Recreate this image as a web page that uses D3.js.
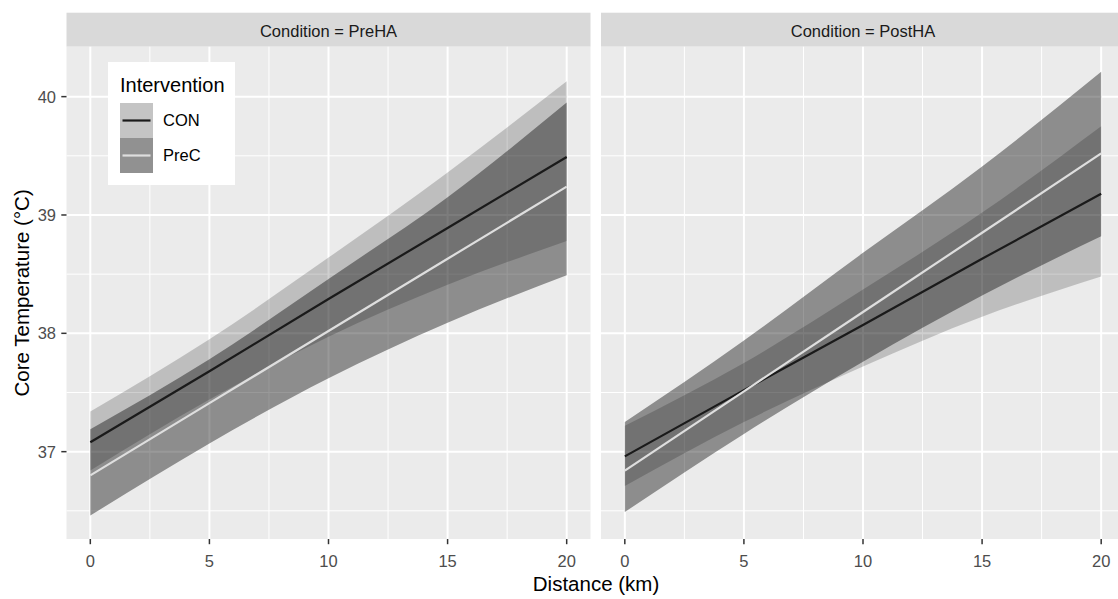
<!DOCTYPE html>
<html>
<head>
<meta charset="utf-8">
<script src="https://cdn.jsdelivr.net/npm/d3@7"></script>
<style>
  body { margin: 0; background: #fff; }
  svg { display: block; font-family: "Liberation Sans", Arial, sans-serif; }
</style>
</head>
<body>
<svg id="chart" width="1118" height="599"></svg>
<script>
// values
const distanceKm = [0, 5, 10, 15, 20];
const conditions = ["PreHA", "PostHA"];
const interventions = ["CON", "PreC"];
const xTicks = [0, 5, 10, 15, 20];
const yTicks = [37, 38, 39, 40];

const preHA_CON_fit = [37.08, 37.68, 38.29, 38.89, 39.49];
const preHA_CON_lo = [36.84, 37.44, 37.97, 38.41, 38.78];
const preHA_CON_hi = [37.34, 37.95, 38.64, 39.36, 40.13];
const preHA_PreC_fit = [36.8, 37.41, 38.02, 38.63, 39.24];
const preHA_PreC_lo = [36.46, 37.07, 37.62, 38.09, 38.49];
const preHA_PreC_hi = [37.19, 37.78, 38.46, 39.15, 39.95];

const postHA_CON_fit = [36.96, 37.52, 38.07, 38.63, 39.18];
const postHA_CON_lo = [36.71, 37.25, 37.72, 38.14, 38.48];
const postHA_CON_hi = [37.22, 37.75, 38.37, 39.02, 39.75];
const postHA_PreC_fit = [36.84, 37.51, 38.18, 38.85, 39.52];
const postHA_PreC_lo = [36.49, 37.15, 37.76, 38.32, 38.82];
const postHA_PreC_hi = [37.25, 37.94, 38.68, 39.41, 40.21];

const series = {
  PreHA: {
    CON: { fit: preHA_CON_fit, lo: preHA_CON_lo, hi: preHA_CON_hi },
    PreC: { fit: preHA_PreC_fit, lo: preHA_PreC_lo, hi: preHA_PreC_hi },
  },
  PostHA: {
    CON: { fit: postHA_CON_fit, lo: postHA_CON_lo, hi: postHA_CON_hi },
    PreC: { fit: postHA_PreC_fit, lo: postHA_PreC_lo, hi: postHA_PreC_hi },
  },
};

const bandOpacity = { CON: 0.19, PreC: 0.4 };
const lineColor = { CON: "#1a1a1a", PreC: "#dedede" };

const svg = d3.select("#chart");
svg.append("rect").attr("width", 1118).attr("height", 599).attr("fill", "#fff");

const panelW = 524;
const panelTop = 46.7;
const panelBottom = 539;
const panelLeft = [66.5, 601];

const y = d3.scaleLinear().domain([36.262, 40.422]).range([panelBottom, panelTop]);

conditions.forEach((cond, i) => {
  const x0 = panelLeft[i];
  const x = d3.scaleLinear().domain([-1, 21]).range([x0, x0 + panelW]);
  const g = svg.append("g");

  // strip
  g.append("rect")
    .attr("x", x0).attr("y", 12.7)
    .attr("width", panelW).attr("height", panelTop - 12.7)
    .attr("fill", "#d9d9d9");
  g.append("text")
    .attr("x", x0 + panelW / 2).attr("y", 37)
    .attr("text-anchor", "middle")
    .attr("font-size", 16.5).attr("fill", "#1a1a1a")
    .text(`Condition = ${cond}`);

  // panel background + grid
  g.append("rect")
    .attr("x", x0).attr("y", panelTop)
    .attr("width", panelW).attr("height", panelBottom - panelTop)
    .attr("fill", "#ebebeb");

  const xMinor = [2.5, 7.5, 12.5, 17.5];
  const yMinor = [36.5, 37.5, 38.5, 39.5];
  g.selectAll(".xminor").data(xMinor).join("line")
    .attr("x1", (d) => x(d)).attr("x2", (d) => x(d))
    .attr("y1", panelTop).attr("y2", panelBottom)
    .attr("stroke", "#fff").attr("stroke-width", 1);
  g.selectAll(".yminor").data(yMinor).join("line")
    .attr("x1", x0).attr("x2", x0 + panelW)
    .attr("y1", (d) => y(d)).attr("y2", (d) => y(d))
    .attr("stroke", "#fff").attr("stroke-width", 1);
  g.selectAll(".xmajor").data(xTicks).join("line")
    .attr("x1", (d) => x(d)).attr("x2", (d) => x(d))
    .attr("y1", panelTop).attr("y2", panelBottom)
    .attr("stroke", "#fff").attr("stroke-width", 2);
  g.selectAll(".ymajor").data(yTicks).join("line")
    .attr("x1", x0).attr("x2", x0 + panelW)
    .attr("y1", (d) => y(d)).attr("y2", (d) => y(d))
    .attr("stroke", "#fff").attr("stroke-width", 2);

  // ribbons
  interventions.forEach((iv) => {
    const s = series[cond][iv];
    const area = d3.area()
      .x((d, k) => x(distanceKm[k]))
      .y0((d, k) => y(s.lo[k]))
      .y1((d, k) => y(s.hi[k]))
      .curve(d3.curveMonotoneX);
    g.append("path")
      .attr("d", area(distanceKm))
      .attr("fill", "#000")
      .attr("fill-opacity", bandOpacity[iv]);
  });

  // fitted lines
  interventions.forEach((iv) => {
    const s = series[cond][iv];
    const line = d3.line()
      .x((d, k) => x(distanceKm[k]))
      .y((d, k) => y(s.fit[k]));
    g.append("path")
      .attr("d", line(distanceKm))
      .attr("fill", "none")
      .attr("stroke", lineColor[iv])
      .attr("stroke-width", 2.2);
  });

  // x axis
  const xa = g.append("g");
  xa.selectAll("line").data(xTicks).join("line")
    .attr("x1", (d) => x(d)).attr("x2", (d) => x(d))
    .attr("y1", panelBottom).attr("y2", panelBottom + 5.2)
    .attr("stroke", "#333").attr("stroke-width", 1.5);
  xa.selectAll("text").data(xTicks).join("text")
    .attr("x", (d) => x(d)).attr("y", 566.5)
    .attr("text-anchor", "middle")
    .attr("font-size", 16.5).attr("fill", "#4d4d4d")
    .text((d) => d);

  // y axis on the first panel only
  if (i === 0) {
    const ya = g.append("g");
    ya.selectAll("line").data(yTicks).join("line")
      .attr("x1", x0 - 5.2).attr("x2", x0)
      .attr("y1", (d) => y(d)).attr("y2", (d) => y(d))
      .attr("stroke", "#333").attr("stroke-width", 1.5);
    ya.selectAll("text").data(yTicks).join("text")
      .attr("x", 56).attr("y", (d) => y(d))
      .attr("dy", "0.36em")
      .attr("text-anchor", "end")
      .attr("font-size", 16.5).attr("fill", "#4d4d4d")
      .text((d) => d);
  }
});

// axis titles
svg.append("text")
  .attr("x", 596).attr("y", 591)
  .attr("text-anchor", "middle")
  .attr("font-size", 20.5).attr("fill", "#000")
  .text("Distance (km)");
svg.append("text")
  .attr("transform", `translate(29,${(panelTop + panelBottom) / 2}) rotate(-90)`)
  .attr("text-anchor", "middle")
  .attr("font-size", 20.5).attr("fill", "#000")
  .text("Core Temperature (°C)");

// legend
const lg = svg.append("g");
lg.append("rect").attr("x", 108).attr("y", 62).attr("width", 127).attr("height", 123).attr("fill", "#fff");
lg.append("text").attr("x", 120).attr("y", 92).attr("font-size", 20).attr("fill", "#000").text("Intervention");
interventions.forEach((iv, k) => {
  const ky = 103 + k * 35;
  lg.append("rect").attr("x", 120).attr("y", ky).attr("width", 33).attr("height", 35).attr("fill", "#f2f2f2");
  lg.append("rect").attr("x", 120).attr("y", ky).attr("width", 33).attr("height", 35)
    .attr("fill", "#000").attr("fill-opacity", bandOpacity[iv]);
  lg.append("line")
    .attr("x1", 122.5).attr("x2", 150.5)
    .attr("y1", ky + 17.5).attr("y2", ky + 17.5)
    .attr("stroke", lineColor[iv]).attr("stroke-width", 2.2);
  lg.append("text")
    .attr("x", 163).attr("y", ky + 17.5).attr("dy", "0.36em")
    .attr("font-size", 16.5).attr("fill", "#000")
    .text(iv);
});
</script>
</body>
</html>
